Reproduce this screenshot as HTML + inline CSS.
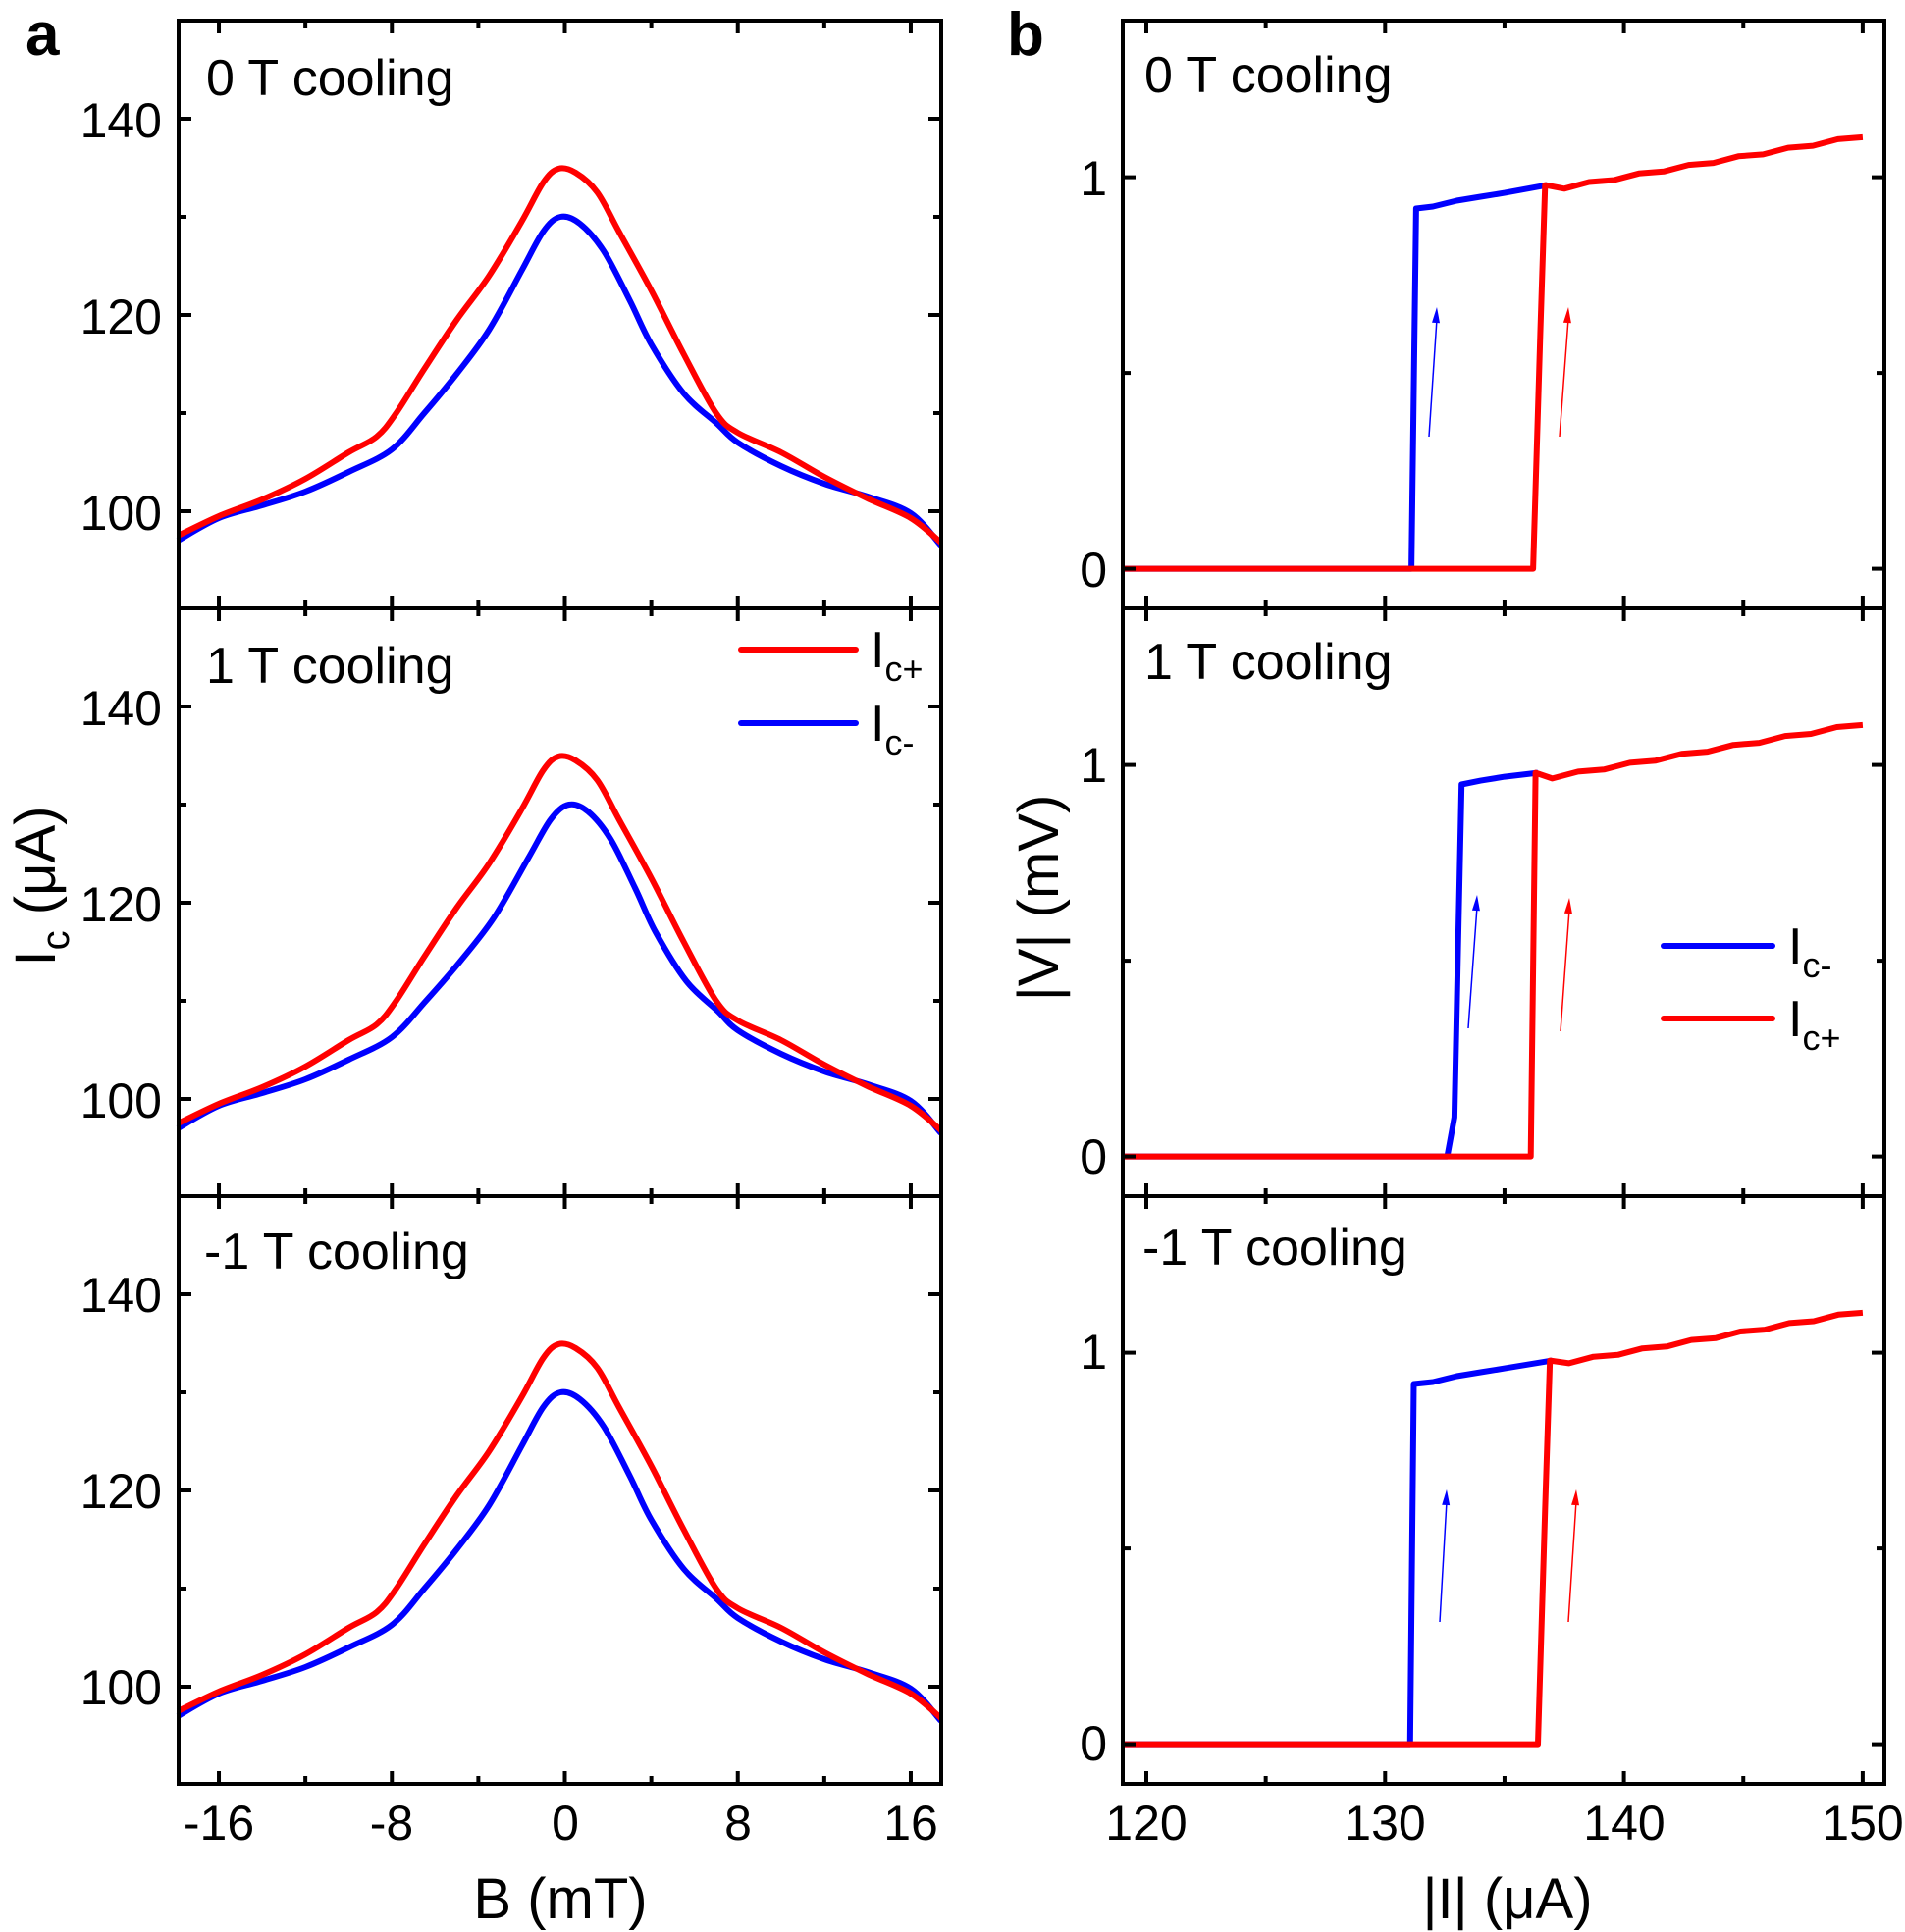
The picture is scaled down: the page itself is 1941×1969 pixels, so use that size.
<!DOCTYPE html>
<html><head><meta charset="utf-8"><style>
html,body{margin:0;padding:0;background:#fff}
svg{display:block}
text{font-family:"Liberation Sans",Arial,sans-serif;fill:#000}
</style></head><body>
<svg id="s" width="1941" height="1969" viewBox="0 0 1941 1969" xmlns="http://www.w3.org/2000/svg">
<g id="curves"></g>
<g id="axes" fill="none" stroke="#000" stroke-width="4"></g>
<g font-size="50">
<text x="26" y="56" font-size="62" font-weight="bold">a</text>
<text x="1026" y="56" font-size="62" font-weight="bold">b</text>
<g font-size="52">
<text x="210" y="97">0 T cooling</text>
<text x="210" y="696">1 T cooling</text>
<text x="208" y="1293">-1 T cooling</text>
<text x="1166" y="94">0 T cooling</text>
<text x="1166" y="692">1 T cooling</text>
<text x="1164" y="1289">-1 T cooling</text>
</g>
<g text-anchor="end">
<text x="165" y="140">140</text><text x="165" y="340">120</text><text x="165" y="540">100</text>
<text x="165" y="739">140</text><text x="165" y="939">120</text><text x="165" y="1139">100</text>
<text x="165" y="1337">140</text><text x="165" y="1537">120</text><text x="165" y="1737">100</text>
<text x="1128" y="199">1</text><text x="1128" y="598">0</text>
<text x="1128" y="797">1</text><text x="1128" y="1196">0</text>
<text x="1128" y="1395">1</text><text x="1128" y="1794">0</text>
</g>
<g text-anchor="middle">
<text x="223" y="1875">-16</text><text x="399" y="1875">-8</text><text x="576" y="1875">0</text><text x="752" y="1875">8</text><text x="928" y="1875">16</text>
<text x="1168" y="1875">120</text><text x="1411" y="1875">130</text><text x="1655" y="1875">140</text><text x="1898" y="1875">150</text>
<text x="571" y="1955" font-size="58">B (mT)</text>
<text x="1536" y="1955" font-size="58">|I| (μA)</text>
</g>
<text transform="translate(56,903) rotate(-90)" text-anchor="middle" font-size="58">I<tspan font-size="40" dy="14">c</tspan><tspan dy="-14"> (μA)</tspan></text>
<text transform="translate(1078,915) rotate(-90)" text-anchor="middle" font-size="58">|V| (mV)</text>
</g>
<g stroke-width="6" stroke-linecap="round">
<line x1="755" y1="662" x2="872" y2="662" stroke="#f00"/>
<line x1="755" y1="737" x2="872" y2="737" stroke="#00f"/>
<line x1="1695" y1="964" x2="1806" y2="964" stroke="#00f"/>
<line x1="1695" y1="1038" x2="1806" y2="1038" stroke="#f00"/>
</g>
<g font-size="52">
<text x="887" y="680">I<tspan font-size="36" dy="14">c+</tspan></text>
<text x="887" y="755">I<tspan font-size="36" dy="14">c-</tspan></text>
<text x="1822" y="982">I<tspan font-size="36" dy="14">c-</tspan></text>
<text x="1822" y="1056">I<tspan font-size="36" dy="14">c+</tspan></text>
</g>
</svg>
<script>
var NS="http://www.w3.org/2000/svg";
var cur=document.getElementById('curves'),ax=document.getElementById('axes');
function el(p,t,a){var e=document.createElementNS(NS,t);for(var k in a)e.setAttribute(k,a[k]);p.appendChild(e);return e;}
function cr(pts){var d="M"+pts[0][0].toFixed(1)+","+pts[0][1].toFixed(1);
for(var i=0;i<pts.length-1;i++){var p0=pts[Math.max(0,i-1)],p1=pts[i],p2=pts[i+1],p3=pts[Math.min(pts.length-1,i+2)];
d+=" C"+(p1[0]+(p2[0]-p0[0])/6).toFixed(1)+","+(p1[1]+(p2[1]-p0[1])/6).toFixed(1)+" "+(p2[0]-(p3[0]-p1[0])/6).toFixed(1)+","+(p2[1]-(p3[1]-p1[1])/6).toFixed(1)+" "+p2[0].toFixed(1)+","+p2[1].toFixed(1);}
return d;}
var tops=[21,620,1219],H=599;
var red=[[-17.9,97.5],[-16,99.5],[-14,101.2],[-12,103.3],[-10,106],[-8.7,107.6],[-7.8,110],[-6.5,114.5],[-5,119.5],[-3.5,124],[-2,129.5],[-1,133.5],[-0.3,134.9],[0.5,134.5],[1.5,132.5],[2.5,128.5],[4,122.5],[5.5,116],[7,110],[8,108],[10,106],[12,103.5],[14,101.3],[16,99.3],[17.4,96.8]];
var blue=[[-17.9,97],[-16,99.3],[-14,100.6],[-12,102],[-10,104],[-8,106.3],[-6.5,110],[-5,114],[-3.5,118.5],[-2,124.5],[-1,128.5],[-0.2,130],[0.7,129.3],[1.8,126.5],[3,121.5],[4,117],[5.5,112],[7,109],[8,107],[10,104.6],[12,102.8],[14,101.5],[16,99.8],[17.4,96.5]];
var shifts=[[0,0],[0,0.4],[0,0]];
function ax_a(B){return 575.5+B*22.03;}
for(var p=0;p<3;p++){var t=tops[p];
 function ya(v){return t+(150-v)*10;}
 [[blue,'#00f',shifts[p][1]],[red,'#f00',shifts[p][0]]].forEach(function(s){
  var pts=s[0].map(function(q){var x=q[0],w=Math.max(0,1-Math.abs(x)/8);x+=s[2]*w;return [ax_a(x),ya(q[1])];});
  el(cur,'path',{d:cr(pts),fill:'none',stroke:s[1],'stroke-width':6,'stroke-linejoin':'round'});});
 el(ax,'rect',{x:182,y:t,width:777,height:H});
 [-16,-12,-8,-4,0,4,8,12,16].forEach(function(B,i){var L=(B%8==0)?13:8,x=ax_a(B);
  el(ax,'line',{x1:x,y1:t+H,x2:x,y2:t+H-L});el(ax,'line',{x1:x,y1:t,x2:x,y2:t+L});});
 [100,110,120,130,140].forEach(function(v){var L=(v%20==0)?13:8,y=ya(v);
  el(ax,'line',{x1:182,y1:y,x2:182+L,y2:y});el(ax,'line',{x1:959,y1:y,x2:959-L,y2:y});});
}
function xb(I){return 1168+(I-120)*24.33;}
function lin(a,b,n){var r=[];for(var i=0;i<=n;i++){var I=a+(b-a)*i/n;r.push([I,1+(I-140)*0.0105+(i%2?0.003:-0.003)]);}return r;}
var jumps=[{b:[[119,0],[131.1,0],[131.3,0.92],[132,0.925],[133,0.94],[134,0.95],[135,0.96],[136.8,0.98]],r:[[119,0],[136.2,0],[136.5,0.6],[136.7,0.98]].concat(lin(137.5,150,12)),ab:[1456,445,1464,313],ar:[1589,445,1598,313]},
{b:[[119,0],[132.6,0],[132.9,0.1],[133.2,0.95],[134,0.96],[135,0.97],[136.4,0.98]],r:[[119,0],[136.1,0],[136.3,0.98]].concat(lin(137,150,12)),ab:[1496,1048,1505,912],ar:[1590,1051,1599,915]},
{b:[[119,0],[131.05,0],[131.2,0.92],[132,0.925],[133,0.94],[134,0.95],[135,0.96],[137,0.98]],r:[[119,0],[136.4,0],[136.7,0.6],[136.9,0.98]].concat(lin(137.7,150,12)),ab:[1467,1653,1474,1518],ar:[1598,1653,1606,1518]}];
for(var p=0;p<3;p++){var t=tops[p];
 function yb(v){return t+(1.4-v)*399;}
 var J=jumps[p];
 [[J.b,'#00f'],[J.r,'#f00']].forEach(function(s){
  var d="M"+s[0].map(function(q){return xb(q[0]).toFixed(1)+","+yb(q[1]).toFixed(1);}).join(" L");
  el(cur,'path',{d:d,fill:'none',stroke:s[1],'stroke-width':6,'stroke-linejoin':'round'});});
 [[J.ab,'#00f'],[J.ar,'#f00']].forEach(function(a){var c=a[0];
  el(cur,'line',{x1:c[0],y1:c[1],x2:c[2],y2:c[3]+12,stroke:a[1],'stroke-width':1.5});
  var dx=c[2]-c[0],dy=c[3]-c[1],l=Math.hypot(dx,dy),ux=dx/l,uy=dy/l;
  var bx=c[2]-ux*16,by=c[3]-uy*16;
  el(cur,'polygon',{points:c[2]+","+c[3]+" "+(bx-uy*4)+","+(by+ux*4)+" "+(bx+uy*4)+","+(by-ux*4),fill:a[1]});});
 el(ax,'rect',{x:1144,y:t,width:776,height:H});
 [120,125,130,135,140,145,150].forEach(function(I){var L=(I%10==0)?13:8,x=xb(I);
  el(ax,'line',{x1:x,y1:t+H,x2:x,y2:t+H-L});el(ax,'line',{x1:x,y1:t,x2:x,y2:t+L});});
 [0,0.5,1].forEach(function(v){var L=(v%1==0)?13:8,y=yb(v);
  el(ax,'line',{x1:1144,y1:y,x2:1144+L,y2:y});el(ax,'line',{x1:1920,y1:y,x2:1920-L,y2:y});});
}
</script>
</body></html>
